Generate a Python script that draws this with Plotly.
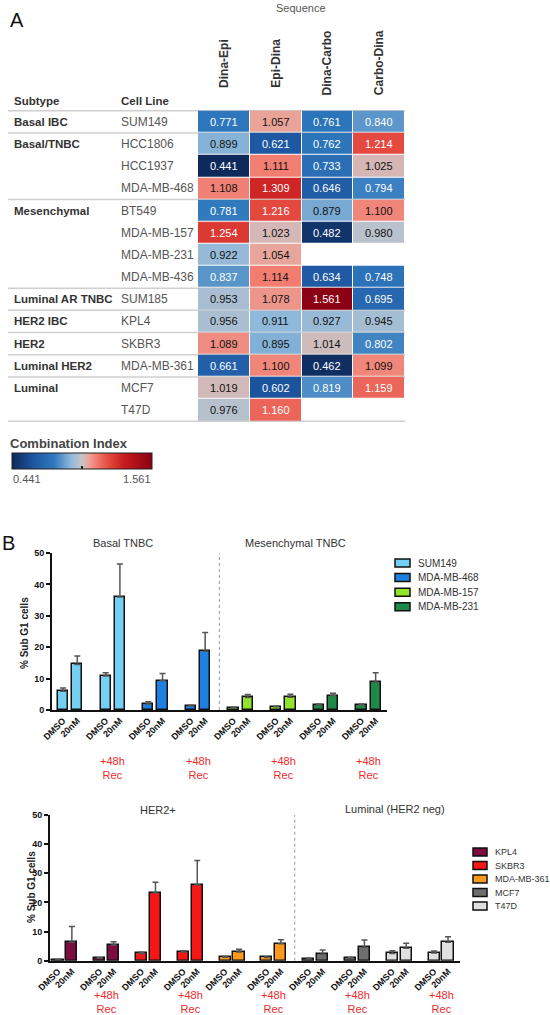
import plotly.graph_objects as go

W, H = 550, 1015


def px(x):
    return x / W


def py(y):
    return 1 - y / H


FONT = "Liberation Sans, Arial, Helvetica, sans-serif"

# ---------------- Panel A data ----------------
sequences = ["Dina-Epi", "Epi-Dina", "Dina-Carbo", "Carbo-Dina"]
cell_lines = ["SUM149", "HCC1806", "HCC1937", "MDA-MB-468", "BT549", "MDA-MB-157",
              "MDA-MB-231", "MDA-MB-436", "SUM185", "KPL4", "SKBR3", "MDA-MB-361",
              "MCF7", "T47D"]
subtypes = ["Basal IBC", "Basal/TNBC", "Basal/TNBC", "Basal/TNBC", "Mesenchymal",
            "Mesenchymal", "Mesenchymal", "Mesenchymal", "Luminal AR TNBC", "HER2 IBC",
            "HER2", "Luminal HER2", "Luminal", "Luminal"]
ci_dina_epi = [0.771, 0.899, 0.441, 1.108, 0.781, 1.254, 0.922, 0.837, 0.953, 0.956,
               1.089, 0.661, 1.019, 0.976]
ci_epi_dina = [1.057, 0.621, 1.111, 1.309, 1.216, 1.023, 1.054, 1.114, 1.078, 0.911,
               0.895, 1.100, 0.602, 1.160]
ci_dina_carbo = [0.761, 0.762, 0.733, 0.646, 0.879, 0.482, None, 0.634, 1.561, 0.927,
                 1.014, 0.462, 0.819, None]
ci_carbo_dina = [0.840, 1.214, 1.025, 0.794, 1.100, 0.980, None, 0.748, 0.695, 0.945,
                 0.802, 1.099, 1.159, None]
ci_min, ci_max = 0.441, 1.561

# ---------------- Panel B data ----------------
conditions = ["DMSO", "20nM", "DMSO", "20nM"]  # last two = +48h Rec

top_lines = ["SUM149", "MDA-MB-468", "MDA-MB-157", "MDA-MB-231"]
top_values = {
    "SUM149": [6.0, 14.5, 10.8, 36.0],
    "MDA-MB-468": [1.9, 9.3, 1.3, 18.7],
    "MDA-MB-157": [0.7, 4.0, 1.0, 4.1],
    "MDA-MB-231": [1.6, 4.6, 1.6, 8.8],
}
top_errors = {
    "SUM149": [1.0, 2.7, 1.1, 10.5],
    "MDA-MB-468": [0.7, 2.3, 0.2, 6.0],
    "MDA-MB-157": [0.2, 0.9, 0.2, 0.9],
    "MDA-MB-231": [0.3, 0.7, 0.3, 3.1],
}

bottom_lines = ["KPL4", "SKBR3", "MDA-MB-361", "MCF7", "T47D"]
bottom_values = {
    "KPL4": [0.4, 6.3, 0.8, 5.4],
    "SKBR3": [2.5, 23.2, 3.0, 26.0],
    "MDA-MB-361": [1.2, 3.0, 1.1, 5.8],
    "MCF7": [0.7, 2.2, 0.9, 4.6],
    "T47D": [2.5, 4.3, 2.6, 6.3],
}
bottom_errors = {
    "KPL4": [0.1, 5.4, 0.2, 1.1],
    "SKBR3": [0.4, 3.7, 0.4, 8.4],
    "MDA-MB-361": [0.2, 0.9, 0.2, 1.4],
    "MCF7": [0.1, 1.5, 0.2, 2.5],
    "T47D": [0.9, 1.7, 0.7, 1.9],
}

line_colors = {
    "SUM149": "#74cff3", "MDA-MB-468": "#1e80e0", "MDA-MB-157": "#93e22c",
    "MDA-MB-231": "#1f8a48", "KPL4": "#7b0d3f", "SKBR3": "#f51616",
    "MDA-MB-361": "#fb9a1c", "MCF7": "#6e6e6e", "T47D": "#e0e0e0",
}

# ---------------- Figure ----------------
fig = go.Figure()
annotations = []
shapes = []


def ann(**kw):
    kw.setdefault("xanchor", "center")
    kw.setdefault("yanchor", "middle")
    kw.setdefault("showarrow", False)
    annotations.append(kw)


# Heatmap
z = [list(r) for r in zip(ci_dina_epi, ci_epi_dina, ci_dina_carbo, ci_carbo_dina)]
colorscale = [
    [0.0, "#0d2a5a"], [0.15, "#1d55a0"], [0.30, "#2f78bd"], [0.42, "#8fb8da"],
    [0.50, "#c6c4c8"], [0.55, "#eaa399"], [0.60, "#f27d70"], [0.70, "#e2443a"],
    [0.80, "#c71c1f"], [1.0, "#8b0013"],
]
fig.add_trace(go.Heatmap(
    z=z, x=sequences, y=cell_lines, zmin=ci_min, zmax=ci_max,
    colorscale=colorscale, xgap=1, ygap=1, hoverongaps=False,
    xaxis="x", yaxis="y",
    colorbar=dict(orientation="h", x=px(82), xanchor="center", y=py(463),
                  yanchor="middle", len=140, lenmode="pixels", thickness=16,
                  xpad=0, ypad=0, outlinewidth=1, outlinecolor="#222",
                  tickvals=[1.0], ticks="inside", ticklen=3, tickwidth=2,
                  tickcolor="#222", showticklabels=False),
))

for i, cl in enumerate(cell_lines):
    for j, seq in enumerate(sequences):
        v = z[i][j]
        if v is None:
            continue
        col = "white" if (v < 0.86 or v > 1.15) else "#111"
        ann(x=seq, y=cl, xref="x", yref="y", text=f"{v:.3f}",
            font=dict(size=11, color=col, family=FONT))
    ann(x=px(119), y=cl, xref="paper", yref="y", text=cl, xanchor="left",
        font=dict(size=12, color="#555", family=FONT))
    if i == 0 or subtypes[i] != subtypes[i - 1]:
        ann(x=px(12), y=cl, xref="paper", yref="y", text=subtypes[i], xanchor="left",
            font=dict(size=11.5, color="#333", family=FONT, weight="bold"))

# group separators
bounds = [-0.5] + [i - 0.5 for i in range(1, len(subtypes)) if subtypes[i] != subtypes[i - 1]] + [len(subtypes) - 0.5]
for b in bounds:
    shapes.append(dict(type="line", xref="paper", yref="y", x0=px(8), x1=px(405), y0=b, y1=b,
                       line=dict(color="#cfcfcf", width=1.5), layer="below"))

for seq in sequences:
    ann(x=seq, y=py(63), xref="x", yref="paper", text=seq, textangle=-90,
        font=dict(size=12, color="#333", family=FONT, weight="bold"))

ann(x=px(8), y=py(20), xref="paper", yref="paper", text="A", xanchor="left",
    font=dict(size=20, color="#111", family=FONT))
ann(x=px(301), y=py(8), xref="paper", yref="paper", text="Sequence",
    font=dict(size=11, color="#555", family=FONT))
ann(x=px(12), y=py(101), xref="paper", yref="paper", text="Subtype", xanchor="left",
    font=dict(size=11.5, color="#333", family=FONT, weight="bold"))
ann(x=px(119), y=py(101), xref="paper", yref="paper", text="Cell Line", xanchor="left",
    font=dict(size=11.5, color="#333", family=FONT, weight="bold"))
ann(x=px(8), y=py(444), xref="paper", yref="paper", text="Combination Index", xanchor="left",
    font=dict(size=13, color="#444", family=FONT, weight="bold"))
ann(x=px(11), y=py(479), xref="paper", yref="paper", text=f"{ci_min:.3f}", xanchor="left",
    font=dict(size=11, color="#555", family=FONT))
ann(x=px(153), y=py(479), xref="paper", yref="paper", text=f"{ci_max:.3f}", xanchor="right",
    font=dict(size=11, color="#555", family=FONT))
ann(x=px(0), y=py(543), xref="paper", yref="paper", text="B", xanchor="left",
    font=dict(size=20, color="#111", family=FONT))


def bar_positions(i):
    return [(2 * i + c // 2) * 3 + c % 2 for c in range(len(conditions))]


def add_bar_panel(lines, values, errors, xa, ya, width, rec_y):
    tickvals, ticktext = [], []
    for i, name in enumerate(lines):
        pos = bar_positions(i)
        fig.add_trace(go.Bar(
            x=pos, y=values[name], name=name, xaxis=xa, yaxis=ya, width=width,
            marker=dict(color=line_colors[name], line=dict(color="#111", width=1.5)),
            error_y=dict(type="data", array=errors[name], arrayminus=[0] * len(pos),
                         symmetric=False, color="#555", thickness=1.5, width=3),
            showlegend=False,
        ))
        tickvals += pos
        ticktext += conditions
        rec_center = (pos[2] + pos[3]) / 2
        ann(x=rec_center, xref=xa, yref="paper", y=py(rec_y), text="+48h<br>Rec",
            font=dict(size=11, color="#ee2a2a", family=FONT))
    return tickvals, ticktext


tv2, tt2 = add_bar_panel(top_lines, top_values, top_errors, "x2", "y2", 0.72, 768)
tv3, tt3 = add_bar_panel(bottom_lines, bottom_values, bottom_errors, "x3", "y3", 0.8, 1002)

# group dividers (between the two subtype groups)
for xa, ya, split in [("x2", "y2", 2), ("x3", "y3", 3)]:
    xd = (bar_positions(split - 1)[3] + bar_positions(split)[0]) / 2
    shapes.append(dict(type="line", xref=xa, yref=ya, x0=xd, x1=xd, y0=0, y1=50.5,
                       line=dict(color="#999", width=1, dash="dot")))

# group titles & y titles
for txt, x, y in [("Basal TNBC", 123, 543), ("Mesenchymal TNBC", 295, 543),
                  ("HER2+", 158, 810), ("Luminal (HER2 neg)", 395, 809)]:
    ann(x=px(x), y=py(y), xref="paper", yref="paper", text=txt,
        font=dict(size=11, color="#333", family=FONT))
for x, y in [(24, 633), (31, 887)]:
    ann(x=px(x), y=py(y), xref="paper", yref="paper", text="% Sub G1 cells", textangle=-90,
        font=dict(size=10, color="#222", family=FONT, weight="bold"))

# manual legends
for names, x0, y0, dy, sw, fs in [(top_lines, 395, 563, 14.6, 15, 10),
                                  (bottom_lines, 473, 852, 13.5, 14, 9)]:
    for k, name in enumerate(names):
        yc = y0 + k * dy
        shapes.append(dict(type="rect", xref="paper", yref="paper", x0=px(x0), x1=px(x0 + sw),
                           y0=py(yc + 4), y1=py(yc - 4), fillcolor=line_colors[name],
                           line=dict(color="#111", width=1.5)))
        ann(x=px(x0 + sw + 6), y=py(yc), xref="paper", yref="paper", text=name, xanchor="left",
            font=dict(size=fs, color="#333", family=FONT))

axis_common = dict(showgrid=False, zeroline=False, fixedrange=True)
bar_y = dict(range=[0, 50], dtick=10, showline=True, linecolor="#111", linewidth=2,
             ticks="outside", ticklen=4, tickwidth=2, tickcolor="#111",
             tickfont=dict(size=9, color="#111", family=FONT, weight="bold"), **axis_common)
bar_x = dict(showline=True, linecolor="#111", linewidth=2, ticks="", tickangle=-45,
             tickfont=dict(size=9, color="#111", family=FONT, weight="bold"), **axis_common)

fig.update_layout(
    width=W, height=H, margin=dict(l=0, r=0, t=0, b=0, autoexpand=False),
    paper_bgcolor="white", plot_bgcolor="white", showlegend=False,
    font=dict(family=FONT),
    bargap=0,
    xaxis=dict(domain=[px(198), px(405)], anchor="y", showticklabels=False, showline=False,
               ticks="", **axis_common),
    yaxis=dict(domain=[py(422), py(110)], anchor="x", autorange="reversed",
               showticklabels=False, showline=False, ticks="", **axis_common),
    xaxis2=dict(domain=[px(52), px(387)], anchor="y2", range=[-0.78, 22.8],
                tickvals=tv2, ticktext=tt2, **bar_x),
    yaxis2=dict(domain=[py(710), py(553)], anchor="x2", **bar_y),
    xaxis3=dict(domain=[px(50), px(460)], anchor="y3", range=[-0.57, 28.86],
                tickvals=tv3, ticktext=tt3, **bar_x),
    yaxis3=dict(domain=[py(960.7), py(815)], anchor="x3", **bar_y),
    annotations=annotations,
    shapes=shapes,
)

fig.write_html("out.html", config={"displayModeBar": False},
               post_script="document.body.style.margin='0';")
